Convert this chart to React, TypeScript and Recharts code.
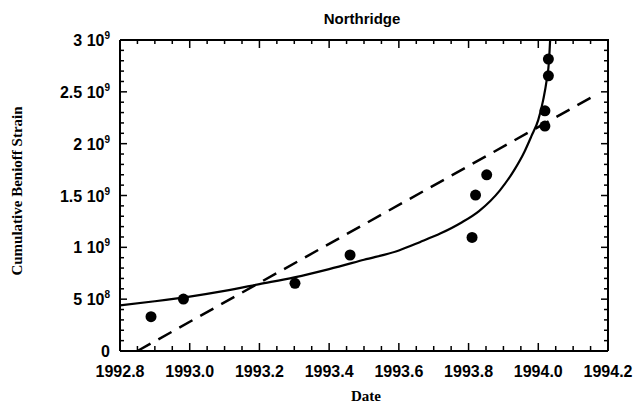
import { ComposedChart, Line, Scatter, XAxis, YAxis } from 'recharts';

// observed events (strain in units of 1e9)
const eventYears = [1992.889, 1992.982, 1993.302, 1993.46, 1993.81, 1993.82, 1993.852, 1994.019, 1994.019, 1994.029, 1994.029];
const eventStrain = [0.331, 0.501, 0.653, 0.926, 1.096, 1.504, 1.70, 2.17, 2.317, 2.655, 2.816];

// time-to-failure fit (solid)
const fitYears = [1992.8, 1992.9, 1993.0, 1993.1, 1993.2, 1993.3, 1993.4, 1993.5, 1993.6, 1993.66, 1993.72, 1993.78, 1993.83, 1993.89, 1993.93, 1993.96, 1993.98, 1994.0, 1994.014, 1994.024, 1994.031, 1994.034];
const fitStrain = [0.44, 0.48, 0.525, 0.58, 0.645, 0.71, 0.79, 0.88, 0.97, 1.05, 1.135, 1.24, 1.35, 1.55, 1.74, 1.92, 2.07, 2.23, 2.42, 2.61, 2.81, 3.0];

// linear fit (dashed)
const trendYears = [1992.85, 1994.17];
const trendStrain = [0, 2.48];

const xMajorTicks = [1992.8, 1993.0, 1993.2, 1993.4, 1993.6, 1993.8, 1994.0, 1994.2];
const yMajorTicks = [0, 0.5, 1, 1.5, 2, 2.5, 3];
const yTickMantissa = ['0', '5', '1', '1.5', '2', '2.5', '3'];
const yTickExponent = ['', '8', '9', '9', '9', '9', '9'];

const X_MIN = 1992.8, X_MAX = 1994.2, Y_MIN = 0, Y_MAX = 3;
const xAllTicks = Array.from({ length: 29 }, (_, i) => Math.round((X_MIN + i * 0.05) * 100) / 100);
const yAllTicks = Array.from({ length: 31 }, (_, i) => i / 10);

const events = eventYears.map((x, i) => ({ x, y: eventStrain[i] }));
const fit = fitYears.map((x, i) => ({ x, y: fitStrain[i] }));
const trend = trendYears.map((x, i) => ({ x, y: trendStrain[i] }));
// top and right edges of the box
const frame = [{ x: X_MIN, y: Y_MAX }, { x: X_MAX, y: Y_MAX }, { x: X_MAX, y: Y_MIN }];
const bottomMarks = xAllTicks.map(x => ({ x, y: Y_MIN }));
const topMarks = xAllTicks.map(x => ({ x, y: Y_MAX }));
const leftMarks = yAllTicks.map(y => ({ x: X_MIN, y }));
const rightMarks = yAllTicks.map(y => ({ x: X_MAX, y }));

const SANS = '"Liberation Sans", Arial, sans-serif';
const SERIF = '"Liberation Serif", "Times New Roman", serif';

const isXMajor = (v: number) => xMajorTicks.some(t => Math.abs(t - v) < 1e-6);
const isYMajor = (v: number) => yMajorTicks.some(t => Math.abs(t - v) < 1e-6);

const BottomLabel = ({ x, y, payload }: any) => (
  <text x={x} y={y + 26} textAnchor="middle" fontFamily={SANS} fontSize={16} fontWeight="bold" fill="#000">
    {Number(payload.value).toFixed(1)}
  </text>
);

const LeftLabel = ({ x, y, index }: any) => (
  <text x={x - 10} y={y + 6} textAnchor="end" fontFamily={SANS} fontSize={16} fontWeight="bold" fill="#000">
    <tspan>{yTickMantissa[index]}{yTickExponent[index] ? ' 10' : ''}</tspan>
    {yTickExponent[index] && <tspan dy={-7} fontSize={10}>{yTickExponent[index]}</tspan>}
  </text>
);

const Mark = ({ x1, y1, x2, y2 }: any) => <line x1={x1} y1={y1} x2={x2} y2={y2} stroke="#000" strokeWidth={1.5} />;
const BottomMark = ({ cx, cy, payload }: any) => <Mark x1={cx} y1={cy} x2={cx} y2={cy - (isXMajor(payload.x) ? 8 : 5)} />;
const TopMark = ({ cx, cy, payload }: any) => <Mark x1={cx} y1={cy} x2={cx} y2={cy + (isXMajor(payload.x) ? 8 : 4)} />;
const LeftMark = ({ cx, cy, payload }: any) => <Mark x1={cx} y1={cy} x2={cx + (isYMajor(payload.y) ? 7 : 4)} y2={cy} />;
const RightMark = ({ cx, cy, payload }: any) => <Mark x1={cx} y1={cy} x2={cx - (isYMajor(payload.y) ? 7 : 4)} y2={cy} />;

const Dot = ({ cx, cy }: any) => <circle cx={cx} cy={cy} r={5.5} fill="#000" />;

export default function App() {
  return (
    <div style={{ position: 'absolute', left: 0, top: 0, width: 637, height: 408, background: '#fff' }}>
      <svg width={637} height={408} style={{ position: 'absolute', left: 0, top: 0, pointerEvents: 'none' }}>
        <text x={362} y={24} textAnchor="middle" fontFamily={SANS} fontSize={15} fontWeight="bold" fill="#000">Northridge</text>
        <text x={366} y={401} textAnchor="middle" fontFamily={SERIF} fontSize={15} fontWeight="bold" fill="#000">Date</text>
        <text transform="translate(22,191) rotate(-90)" textAnchor="middle" fontFamily={SERIF} fontSize={15} fontWeight="bold" fill="#000">
          Cumulative Benioff Strain
        </text>
      </svg>
      <ComposedChart width={637} height={408} margin={{ top: 40, right: 29, bottom: 27, left: 60 }}>
        <XAxis dataKey="x" type="number" domain={[X_MIN, X_MAX]} ticks={xMajorTicks} interval={0}
          height={30} axisLine={{ stroke: '#000', strokeWidth: 2 }} tickLine={false} tickSize={0} tickMargin={0}
          tick={(p: any) => <BottomLabel {...p} />} />
        <YAxis dataKey="y" type="number" domain={[Y_MIN, Y_MAX]} ticks={yMajorTicks} interval={0}
          width={60} axisLine={{ stroke: '#000', strokeWidth: 2 }} tickLine={false} tickSize={0} tickMargin={0}
          tick={(p: any) => <LeftLabel {...p} />} />

        <Line data={frame} dataKey="y" type="linear" stroke="#000" strokeWidth={2} dot={false} isAnimationActive={false} />
        <Scatter data={bottomMarks} dataKey="y" shape={(p: any) => <BottomMark {...p} />} isAnimationActive={false} />
        <Scatter data={topMarks} dataKey="y" shape={(p: any) => <TopMark {...p} />} isAnimationActive={false} />
        <Scatter data={leftMarks} dataKey="y" shape={(p: any) => <LeftMark {...p} />} isAnimationActive={false} />
        <Scatter data={rightMarks} dataKey="y" shape={(p: any) => <RightMark {...p} />} isAnimationActive={false} />

        <Line data={trend} dataKey="y" type="linear" stroke="#000" strokeWidth={2.5}
          strokeDasharray="15 9" dot={false} isAnimationActive={false} />
        <Line data={fit} dataKey="y" type="monotone" stroke="#000" strokeWidth={2.2}
          dot={false} isAnimationActive={false} />
        <Scatter data={events} dataKey="y" fill="#000" shape={(p: any) => <Dot {...p} />} isAnimationActive={false} />
      </ComposedChart>
    </div>
  );
}
